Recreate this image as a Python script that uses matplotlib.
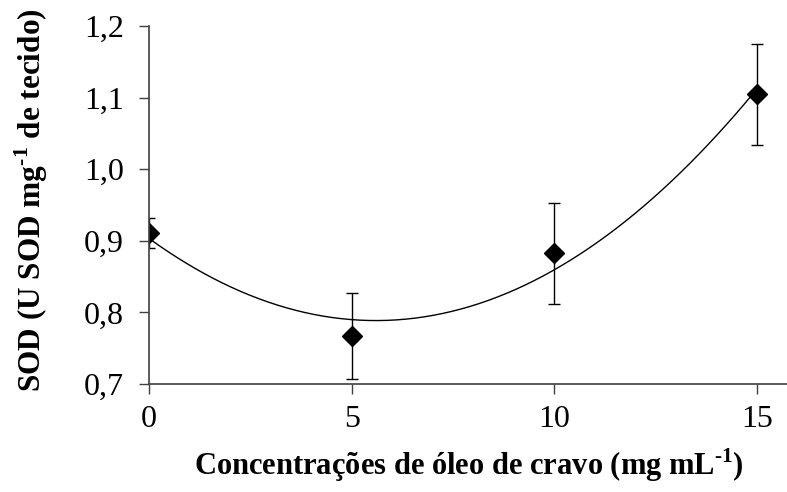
import numpy as np
import matplotlib
matplotlib.use('Agg')
import matplotlib.pyplot as plt

plt.rcParams['font.family'] = ['Liberation Serif', 'DejaVu Serif']
plt.rcParams['mathtext.fontset'] = 'custom'
plt.rcParams['mathtext.rm'] = 'Liberation Serif'
plt.rcParams['mathtext.bf'] = 'Liberation Serif:bold'

# dados
conc = [0, 5, 10, 15]
sod = [0.911, 0.767, 0.8825, 1.1046]
erro = [0.021, 0.060, 0.071, 0.071]
yticks = [0.7, 0.8, 0.9, 1.0, 1.1, 1.2]
ylabels = ['0,7', '0,8', '0,9', '1,0', '1,1', '1,2']
xticks = [0, 5, 10, 15]

fig = plt.figure(figsize=(7.87, 4.92), dpi=100)
ax = fig.add_axes([0.1893, 0.2195, 0.8107, 0.7275])

# linha de tendencia polinomial (ordem 2)
coef = np.polyfit(conc, sod, 2)
xs = np.linspace(0, 15, 200)
ax.plot(xs, np.polyval(coef, xs), c='black', lw=1)

ax.errorbar(conc, sod, yerr=erro, fmt='D', c='black', ms=10,
            ecolor='black', elinewidth=1, capsize=4.5, capthick=1)

ax.set_xlim(0, 15.74)
ax.set_ylim(0.7, 1.2)
ax.set_xticks(xticks)
ax.set_yticks(yticks)
ax.set_yticklabels(ylabels)
ax.tick_params(direction='out', length=7, width=1, color='#404040',
               labelsize=23)
ax.tick_params(axis='x', pad=8)
ax.tick_params(axis='y', pad=11)
ax.spines['top'].set_visible(False)
ax.spines['right'].set_visible(False)
for s in ['left', 'bottom']:
    ax.spines[s].set_color('#404040')
    ax.spines[s].set_linewidth(1.2)

ax.set_xlabel('Concentrações de óleo de cravo (mg mL$^{\\mathbf{\u20101}}$)',
              fontsize=22, fontweight='bold')
ax.set_ylabel('SOD (U SOD mg$^{\\mathbf{\u20101}}$ de tecido)',
              fontsize=22.5, fontweight='bold')
ax.xaxis.set_label_coords(0.502, -0.226)
ax.xaxis.label.set_va('center')
ax.yaxis.set_label_coords(-0.185, 0.514)
ax.yaxis.label.set_va('center')

fig.savefig('out.png', dpi=100)
